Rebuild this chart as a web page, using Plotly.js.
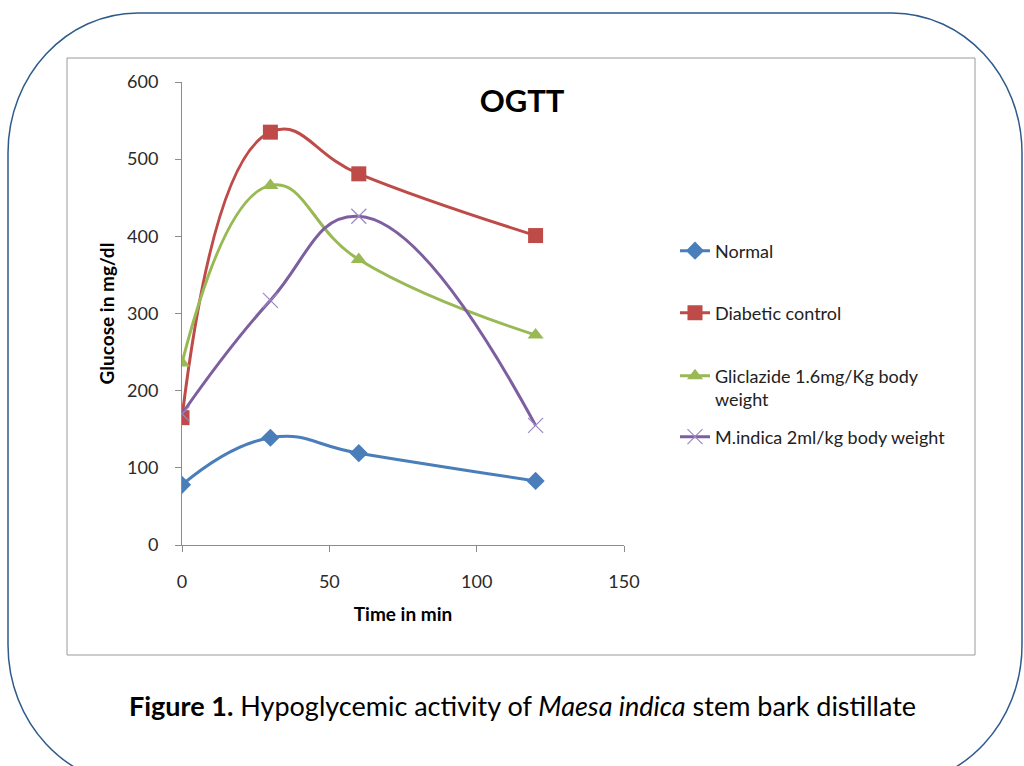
<!DOCTYPE html>
<html>
<head>
<meta charset="utf-8">
<script src="https://cdn.plot.ly/plotly-3.0.1.min.js"></script>
<style>html,body{margin:0;padding:0;background:#fff;}#chart{width:1024px;height:766px;}</style>
</head>
<body>
<div id="chart"></div>
<script>
// Data
const timeMin = [0, 30, 60, 120];
const normal = [78, 139, 119, 83];
const diabetic = [165, 535, 481, 401];
const gliclazide = [236, 466, 370, 272];
const mindica = [170, 317, 426, 155];
const seriesNames = ["Normal", "Diabetic control", "Gliclazide 1.6mg/Kg body<br>weight", "M.indica 2ml/kg body weight"];
const xTicks = [0, 50, 100, 150];
const yTicks = [0, 100, 200, 300, 400, 500, 600];

// plot area pixel geometry
const L = 182, R = 624, T = 82, B = 545;
const W = 1024, H = 766;
const px = x => (x - L) / (R - L);
const py = y => (B - y) / (B - T);

const font = "Lato, 'Open Sans', sans-serif";

function trace(y, name, color, symbol, size, legendId, mcolor, mline) {
  return {
    x: timeMin, y: y, name: name, type: 'scatter', mode: 'lines+markers',
    line: {color: color, width: 3, shape: 'spline', smoothing: 1.3},
    marker: {symbol: symbol, size: size, color: mcolor || color, line: mline || {width: 0}},
    legend: legendId
  };
}

const data = [
  trace(normal, seriesNames[0], '#4A7EBB', 'diamond', 14, 'legend'),
  trace(diabetic, seriesNames[1], '#BE4B48', 'square', 15, 'legend2'),
  trace(gliclazide, seriesNames[2], '#98B954', 'triangle-up', 14, 'legend3'),
  trace(mindica, seriesNames[3], '#7D5FA0', 'x-thin-open', 15, 'legend4', '#9B88C4', {width: 1.2, color: '#9B88C4'})
];

// outer rounded frame (pixels) -> paper coords
function rr(x0, y0, x1, y1, rx, ry) {
  const k = 0.5523;
  const P = (x, y) => px(x) + ',' + py(y);
  return 'M' + P(x0 + rx, y0) +
    ' L' + P(x1 - rx, y0) +
    ' C' + P(x1 - rx + k * rx, y0) + ' ' + P(x1, y0 + ry - k * ry) + ' ' + P(x1, y0 + ry) +
    ' L' + P(x1, y1 - ry) +
    ' C' + P(x1, y1 - ry + k * ry) + ' ' + P(x1 - rx + k * rx, y1) + ' ' + P(x1 - rx, y1) +
    ' L' + P(x0 + rx, y1) +
    ' C' + P(x0 + rx - k * rx, y1) + ' ' + P(x0, y1 - ry + k * ry) + ' ' + P(x0, y1 - ry) +
    ' L' + P(x0, y0 + ry) +
    ' C' + P(x0, y0 + ry - k * ry) + ' ' + P(x0 + rx - k * rx, y0) + ' ' + P(x0 + rx, y0) + ' Z';
}

const legendBase = {
  xref: 'paper', yref: 'paper', x: px(675), xanchor: 'left', yanchor: 'middle',
  bgcolor: 'rgba(0,0,0,0)', borderwidth: 0, valign: 'top',
  font: {family: font, size: 18, color: '#222'}
};

const layout = {
  width: W, height: H,
  margin: {l: L, r: W - R, t: T, b: H - B, pad: 0},
  paper_bgcolor: '#fff', plot_bgcolor: '#fff',
  showlegend: true,
  title: {
    text: '<b>OGTT</b>', x: px(522), xref: 'paper', xanchor: 'center',
    y: 1 - 101 / H, yref: 'container', yanchor: 'middle',
    font: {family: font, size: 31, color: '#000'}
  },
  xaxis: {
    range: [0, 150], tickvals: xTicks, ticktext: xTicks.map(String),
    showgrid: false, zeroline: false, showline: true, linecolor: '#8C8C8C', linewidth: 1,
    ticks: 'outside', ticklen: 6, tickcolor: '#8C8C8C', ticklabelstandoff: 14,
    tickfont: {family: font, size: 18, color: '#2a2a2a'},
    title: {text: '<b>Time in min</b>', standoff: 17, font: {family: font, size: 19, color: '#000'}}
  },
  yaxis: {
    range: [0, 600], tickvals: yTicks, ticktext: yTicks.map(String),
    showgrid: false, zeroline: false, showline: true, linecolor: '#8C8C8C', linewidth: 1,
    ticks: 'outside', ticklen: 6, tickcolor: '#8C8C8C', ticklabelstandoff: 13,
    tickfont: {family: font, size: 18, color: '#2a2a2a'},
    title: {text: '<b>Glucose in mg/dl</b>', standoff: 7, font: {family: font, size: 19, color: '#000'}}
  },
  legend: Object.assign({}, legendBase, {y: py(251)}),
  legend2: Object.assign({}, legendBase, {y: py(313)}),
  legend3: Object.assign({}, legendBase, {y: py(387.5)}),
  legend4: Object.assign({}, legendBase, {y: py(437)}),
  shapes: [
    {type: 'path', xref: 'paper', yref: 'paper', path: rr(8, 13, 1022, 785, 130, 140),
     line: {color: '#2E5A8C', width: 1.5}, fillcolor: 'rgba(0,0,0,0)', layer: 'below'},
    {type: 'rect', xref: 'paper', yref: 'paper', x0: px(67), x1: px(975), y0: py(655), y1: py(58),
     line: {color: '#9A9A9A', width: 1}, fillcolor: 'rgba(0,0,0,0)', layer: 'below'}
  ],
  annotations: [
    {xref: 'paper', yref: 'paper', x: px(522), y: py(705), xanchor: 'center', yanchor: 'middle',
     showarrow: false,
     text: '<b>Figure 1.</b> Hypoglycemic activity of <i>Maesa indica</i> stem bark distillate',
     font: {family: font, size: 27, color: '#000'}}
  ]
};

Plotly.newPlot('chart', data, layout, {displayModeBar: false, staticPlot: true});
</script>
</body>
</html>
